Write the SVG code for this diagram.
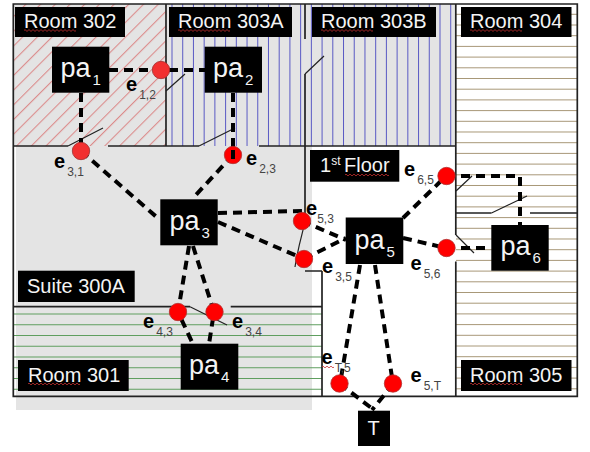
<svg xmlns="http://www.w3.org/2000/svg" width="590" height="452" viewBox="0 0 590 452">
<style>
.wall{stroke:#222;stroke-width:1.7;fill:none}
.door{stroke:#222;stroke-width:1.2;fill:none}
.edge{stroke:#000;stroke-width:4;stroke-dasharray:9 6;fill:none}
.n{fill:#f00;stroke:#b03030;stroke-width:.8}
.m{fill:#f23030;stroke:#a03030;stroke-width:.8}
.box{fill:#000}
.lab{font-family:"Liberation Sans",Arial,sans-serif;fill:#f4f4f4;font-size:20px}
.pa{font-family:"Liberation Sans",Arial,sans-serif;fill:#f4f4f4;font-size:27px}
.sub{font-size:15px}
.e{font-family:"Liberation Sans",Arial,sans-serif;fill:#000;font-size:20px;font-weight:bold}
.es{font-family:"Liberation Sans",Arial,sans-serif;fill:#444;font-size:12px;font-weight:normal}
.sq{stroke:#c83030;stroke-width:.8;fill:none}
</style>
<defs>
<pattern id="p302" width="10.4" height="10.4" patternUnits="userSpaceOnUse" patternTransform="rotate(45)"><rect width="10.4" height="10.4" fill="#e4e4e4"/><line x1="0" y1="0" x2="0" y2="10.4" stroke="#dc8c8c" stroke-width="2.200"/></pattern>
<path id="squig" d="M0 0q1-1.800 2 0t2 0t2 0t2 0t2 0t2 0t2 0t2 0t2 0t2 0t2 0t2 0t2 0t2 0t2 0t2 0t2 0t2 0t2 0t2 0t2 0t2 0t2 0t2 0t2 0t2 0"/>
</defs>
<g id="floorplan">
<rect x="16" y="146" width="296" height="264" fill="#e4e4e4"/>
<rect x="14" y="4" width="152" height="142" fill="url(#p302)"/>
<rect x="167" y="4" width="289" height="142" fill="#e4e4e4"/>
<path stroke="#5a5ac4" stroke-width="1" fill="none" d="M172 4v142m10.72-142v142m10.72-142v142m10.72-142v142m10.72-142v142m10.72-142v142m10.72-142v142m10.72-142v142m10.72-142v142m10.72-142v142m10.72-142v142m10.72-142v142m10.72-142v142m10.72-142v142m10.72-142v142m10.72-142v142m10.72-142v142m10.72-142v142m10.72-142v142m10.72-142v142m10.72-142v142m10.72-142v142m10.72-142v142m10.72-142v142m10.72-142v142m10.72-142v142m10.72-142v142"/>
<path stroke="#5f9e5f" stroke-width="1" fill="none" d="M14 314h308m-308 10.75h308m-308 10.75h308m-308 10.75h308m-308 10.75h308m-308 10.75h308m-308 10.75h308m-308 10.75h308"/>
<path stroke="#a89878" stroke-width="1" fill="none" d="M456 14.300h121m-121 10.700h121m-121 10.700h121m-121 10.700h121m-121 10.700h121m-121 10.700h121m-121 10.700h121m-121 10.700h121m-121 10.700h121m-121 10.700h121m-121 10.700h121m-121 10.700h121m-121 10.700h121m-121 10.700h121m-121 10.700h121m-121 10.700h121m-121 10.700h121m-121 10.700h121m-121 10.700h121m-121 10.700h121m-121 10.700h121m-121 10.700h121m-121 10.700h121m-121 10.700h121m-121 10.700h121m-121 10.700h121m-121 10.700h121m-121 10.700h121m-121 10.700h121m-121 10.700h121m-121 10.700h121m-121 10.700h121m-121 10.700h121m-121 10.700h121m-121 10.700h121m-121 10.700h121"/>
<path class="wall" d="M13.300 4H577.300V396.300H13.300Z"/>
<path class="wall" d="M166 4V91M166 91V146M13 146H68M108 146H199M259 146H456M455.800 4V191M455.800 191V235M455.800 261.500V396M305 4V39M305 74V214M322 271V396M13 306.700H190M230.700 306.700H322M456 213H491.500M530 213H577M305 271H322"/>
<path class="door" d="M166 91L185 74M68 146L103 128M199 146L235 128M305 74L324 56M456 191L472 176M491.500 213L527 196M456 235L474 253M306 214C305 228 300 236 295 267M190 306.700L227 325"/>
</g>
<g id="connectors">
<path class="edge" d="M109 70H161H205"/>
<path class="edge" d="M81 93V150"/>
<path class="edge" d="M233 93V155"/>
<path class="edge" d="M81 151L160 220"/>
<path class="edge" d="M233 155L193 198"/>
<path class="edge" d="M218 213L302 211"/>
<path class="edge" d="M218 222L304 259"/>
<path class="edge" d="M189 246L178 312L192 342"/>
<path class="edge" d="M193 246L214 312L209 344"/>
<path class="edge" d="M302 221L346 240"/>
<path class="edge" d="M304 259L346 238"/>
<path class="edge" d="M403 238L446 248"/>
<path class="edge" d="M403 218L446 176"/>
<path class="edge" d="M446 248H491"/>
<path class="edge" d="M446 176H520V225"/>
<path class="edge" d="M360 265L340 384L374 410"/>
<path class="edge" d="M375 265L393 384L372 410"/>
</g>
<g id="e12"><circle class="m" cx="161" cy="70" r="8.700"/><text class="e" x="126" y="91">e<tspan class="es" dx="2" dy="8">1,2</tspan></text></g>
<g id="e31"><circle class="m" cx="81" cy="151" r="8.700"/><text class="e" x="54" y="168">e<tspan class="es" dx="2" dy="8">3,1</tspan></text></g>
<g id="e23"><circle class="n" cx="233" cy="155" r="8.700"/><line x1="233" y1="150" x2="233" y2="159" stroke="#000" stroke-width="4"/><text class="e" x="246" y="165">e<tspan class="es" dx="2" dy="8">2,3</tspan></text></g>
<g id="e53"><circle class="n" cx="302" cy="221" r="8.700"/><text class="e" x="306" y="215">e<tspan class="es" dx="0" dy="8">5,3</tspan></text></g>
<g id="e35"><circle class="n" cx="304" cy="259" r="8.700"/><text class="e" x="322" y="273">e<tspan class="es" dx="2" dy="8">3,5</tspan></text></g>
<g id="e43"><circle class="n" cx="178" cy="312" r="8.700"/><text class="e" x="143" y="328">e<tspan class="es" dx="2" dy="8">4,3</tspan></text></g>
<g id="e34"><circle class="n" cx="214.500" cy="312" r="8.700"/><text class="e" x="232" y="328">e<tspan class="es" dx="2" dy="8">3,4</tspan></text></g>
<g id="e65"><circle class="n" cx="446.500" cy="176" r="8.700"/><text class="e" x="404" y="176">e<tspan class="es" dx="2" dy="8">6,5</tspan></text></g>
<g id="e56"><circle class="n" cx="446.500" cy="248" r="8.700"/><text class="e" x="410.500" y="270">e<tspan class="es" dx="2" dy="8">5,6</tspan></text></g>
<g id="eT5"><circle class="n" cx="339.500" cy="383.500" r="8.700"/><text class="e" x="321.500" y="364">e<tspan class="es" dx="2" dy="8">T,5</tspan></text><path class="sq" d="M322 367q1-1.800 2 0t2 0t2 0t2 0t2 0t2 0"/></g>
<g id="e5T"><circle class="n" cx="393" cy="383.500" r="8.700"/><text class="e" x="410.500" y="382">e<tspan class="es" dx="2" dy="8">5,T</tspan></text></g>
<g id="r302"><rect class="box" x="15" y="7" width="110" height="30"/><text class="lab" x="24" y="28">Room 302</text><use href="#squig" class="sq" x="24" y="30.500"/></g>
<g id="r303a"><rect class="box" x="169" y="7" width="123" height="30"/><text class="lab" x="178" y="28">Room 303A</text><use href="#squig" class="sq" x="178" y="30.500"/></g>
<g id="r303b"><rect class="box" x="312" y="7" width="124" height="30"/><text class="lab" x="321" y="28">Room 303B</text><use href="#squig" class="sq" x="321" y="30.500"/></g>
<g id="r304"><rect class="box" x="461" y="7" width="110.500" height="30"/><text class="lab" x="470" y="28">Room 304</text><use href="#squig" class="sq" x="470" y="30.500"/></g>
<g id="floor1"><rect class="box" x="310" y="150" width="89.300" height="31.700"/><text class="lab" x="320" y="172">1<tspan font-size="12" dy="-7">st</tspan><tspan dy="7" x="344">Floor</tspan></text><path class="sq" d="M345 175q1-1.800 2 0t2 0t2 0t2 0t2 0t2 0t2 0t2 0t2 0t2 0t2 0t2 0t2 0t2 0t2 0t2 0t2 0t2 0t2 0t2 0t2 0t2 0"/></g>
<g id="suite"><rect class="box" x="18" y="270.700" width="116.700" height="31.300"/><text class="lab" x="27" y="292.500">Suite 300A</text></g>
<g id="r301"><rect class="box" x="18" y="360" width="110.700" height="31"/><text class="lab" x="28" y="381.500">Room 301</text><use href="#squig" class="sq" x="28" y="384"/></g>
<g id="r305"><rect class="box" x="461" y="360" width="110.500" height="31"/><text class="lab" x="470" y="381.500">Room 305</text><use href="#squig" class="sq" x="470" y="384"/></g>
<g id="pa1"><rect class="box" x="52" y="46.700" width="57.300" height="46"/><text class="pa" x="60.500" y="77">pa<tspan class="sub" dx="2" dy="8">1</tspan></text></g>
<g id="pa2"><rect class="box" x="204.700" y="46.700" width="57.300" height="46"/><text class="pa" x="213" y="77">pa<tspan class="sub" dx="2" dy="8">2</tspan></text></g>
<g id="pa3"><rect class="box" x="160.300" y="199.300" width="57.400" height="46"/><text class="pa" x="169.500" y="229.500">pa<tspan class="sub" dx="2" dy="8">3</tspan></text></g>
<g id="pa4"><rect class="box" x="180.700" y="343.700" width="57.600" height="46"/><text class="pa" x="189" y="374">pa<tspan class="sub" dx="2" dy="8">4</tspan></text></g>
<g id="pa5"><rect class="box" x="345.700" y="217.500" width="57.600" height="46.500"/><text class="pa" x="354.500" y="249">pa<tspan class="sub" dx="2" dy="8">5</tspan></text></g>
<g id="pa6"><rect class="box" x="491.300" y="225" width="57.400" height="45.700"/><text class="pa" x="500.500" y="255">pa<tspan class="sub" dx="2" dy="8">6</tspan></text></g>
<g id="T"><rect class="box" x="358" y="410.700" width="32" height="35.300"/><text class="pa" x="367.500" y="435" style="font-size:20px">T</text></g>
</svg>
